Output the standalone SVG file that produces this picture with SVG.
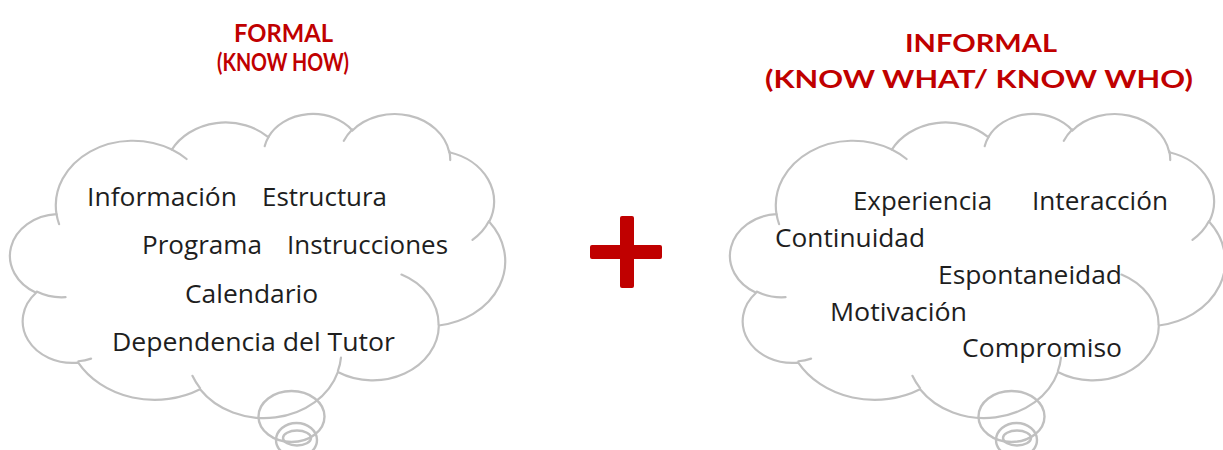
<svg xmlns="http://www.w3.org/2000/svg" xmlns:xlink="http://www.w3.org/1999/xlink" width="1223" height="450" viewBox="0 0 1223 450">
  <style>
    .title { font-family: Lato, "Open Sans", sans-serif; font-size: 25px; font-weight: 700; fill: #c00000; }
    .item { font-family: "Open Sans", "Noto Sans", sans-serif; font-size: 26px; fill: #1e1e1e; }
    .line { fill: none; stroke: #c0c0c0; stroke-width: 2.2; vector-effect: non-scaling-stroke; stroke-linecap: round; }
    .tail { fill: none; stroke: #c0c0c0; stroke-width: 2.4; }
    .plus { fill: #c00000; }
  </style>
  <defs>
    <!-- thought cloud drawn in a 43200 x 43200 unit box -->
    <g id="cloud">
      <path class="line" d="M3900 14370 A6753 9190 0 0 1 14005 5202 A5333 7267 0 0 1 22456 3431 A4365 5945 0 0 1 29833 2480 A4857 6595 0 0 1 38318 5575 A5333 7273 0 0 1 41818 15459 A6775 9220 0 0 1 37403 30201 A5785 7867 0 0 1 28554 36811 A6752 9215 0 0 1 16479 39263 A7720 10543 0 0 1 5803 35468 A4360 5918 0 0 1 2112 25546 A4345 5945 0 0 1 3900 14370 Z"/>
      <path class="line" d="M4693 26177 A4345 5945 0 0 1 2160 25380 M6928 34899 A4360 5918 0 0 1 5820 35281 M16478 39090 A6752 9215 0 0 1 15810 37349 M28827 34751 A6752 9215 0 0 1 28560 36660 M34129 22954 A5785 7867 0 0 1 37381 30090 M41798 15354 A5333 7273 0 0 1 40350 18030 M38324 5426 A4857 6595 0 0 1 38400 6690 M29078 3952 A4857 6595 0 0 1 29820 2340 M22141 4720 A4365 5945 0 0 1 22500 3331 M14000 5192 A6753 9190 0 0 1 15299 6539 M4127 15789 A6753 9190 0 0 1 3900 14370"/>
    </g>
    <!-- trailing bubbles below a cloud, relative to the cloud's left edge -->
    <g id="bubbles">
      <ellipse class="tail" cx="279.5" cy="416.5" rx="33" ry="25.5"/>
      <ellipse class="tail" cx="284.5" cy="440" rx="20.5" ry="17"/>
      <ellipse class="tail" cx="285" cy="438" rx="14" ry="7.5"/>
    </g>
  </defs>

  <rect width="1223" height="450" fill="#ffffff"/>

  <g id="title-formal">
    <text class="title" x="234" y="42" textLength="99" lengthAdjust="spacingAndGlyphs">FORMAL</text>
    <text class="title" x="217" y="71" textLength="132" lengthAdjust="spacingAndGlyphs">(KNOW HOW)</text>
  </g>

  <g id="title-informal">
    <text class="title" x="905" y="52" textLength="152" lengthAdjust="spacingAndGlyphs">INFORMAL</text>
    <text class="title" x="765" y="88" textLength="428" lengthAdjust="spacingAndGlyphs">(KNOW WHAT/ KNOW WHO)</text>
  </g>

  <g id="cloud-formal">
    <use xlink:href="#cloud" transform="translate(12,113) scale(0.011412,0.0070370)"/>
    <use xlink:href="#bubbles" transform="translate(12,0)"/>
    <text class="item" x="87" y="206" textLength="150" lengthAdjust="spacingAndGlyphs">Información</text>
    <text class="item" x="262" y="206" textLength="125" lengthAdjust="spacingAndGlyphs">Estructura</text>
    <text class="item" x="142" y="254" textLength="120" lengthAdjust="spacingAndGlyphs">Programa</text>
    <text class="item" x="287" y="254" textLength="161" lengthAdjust="spacingAndGlyphs">Instrucciones</text>
    <text class="item" x="185" y="303" textLength="133" lengthAdjust="spacingAndGlyphs">Calendario</text>
    <text class="item" x="112" y="351" textLength="283" lengthAdjust="spacingAndGlyphs">Dependencia del Tutor</text>
  </g>

  <g id="plus">
    <rect class="plus" x="590" y="245" width="72" height="14" rx="2"/>
    <rect class="plus" x="620" y="216" width="14" height="72" rx="2"/>
  </g>

  <g id="cloud-informal">
    <use xlink:href="#cloud" transform="translate(732,113) scale(0.011412,0.0070370)"/>
    <use xlink:href="#bubbles" transform="translate(732,0)"/>
    <text class="item" x="853" y="210" textLength="139" lengthAdjust="spacingAndGlyphs">Experiencia</text>
    <text class="item" x="1032" y="210" textLength="136" lengthAdjust="spacingAndGlyphs">Interacción</text>
    <text class="item" x="775" y="247" textLength="150" lengthAdjust="spacingAndGlyphs">Continuidad</text>
    <text class="item" x="938" y="284" textLength="184" lengthAdjust="spacingAndGlyphs">Espontaneidad</text>
    <text class="item" x="830" y="321" textLength="137" lengthAdjust="spacingAndGlyphs">Motivación</text>
    <text class="item" x="962" y="357" textLength="160" lengthAdjust="spacingAndGlyphs">Compromiso</text>
  </g>
</svg>
